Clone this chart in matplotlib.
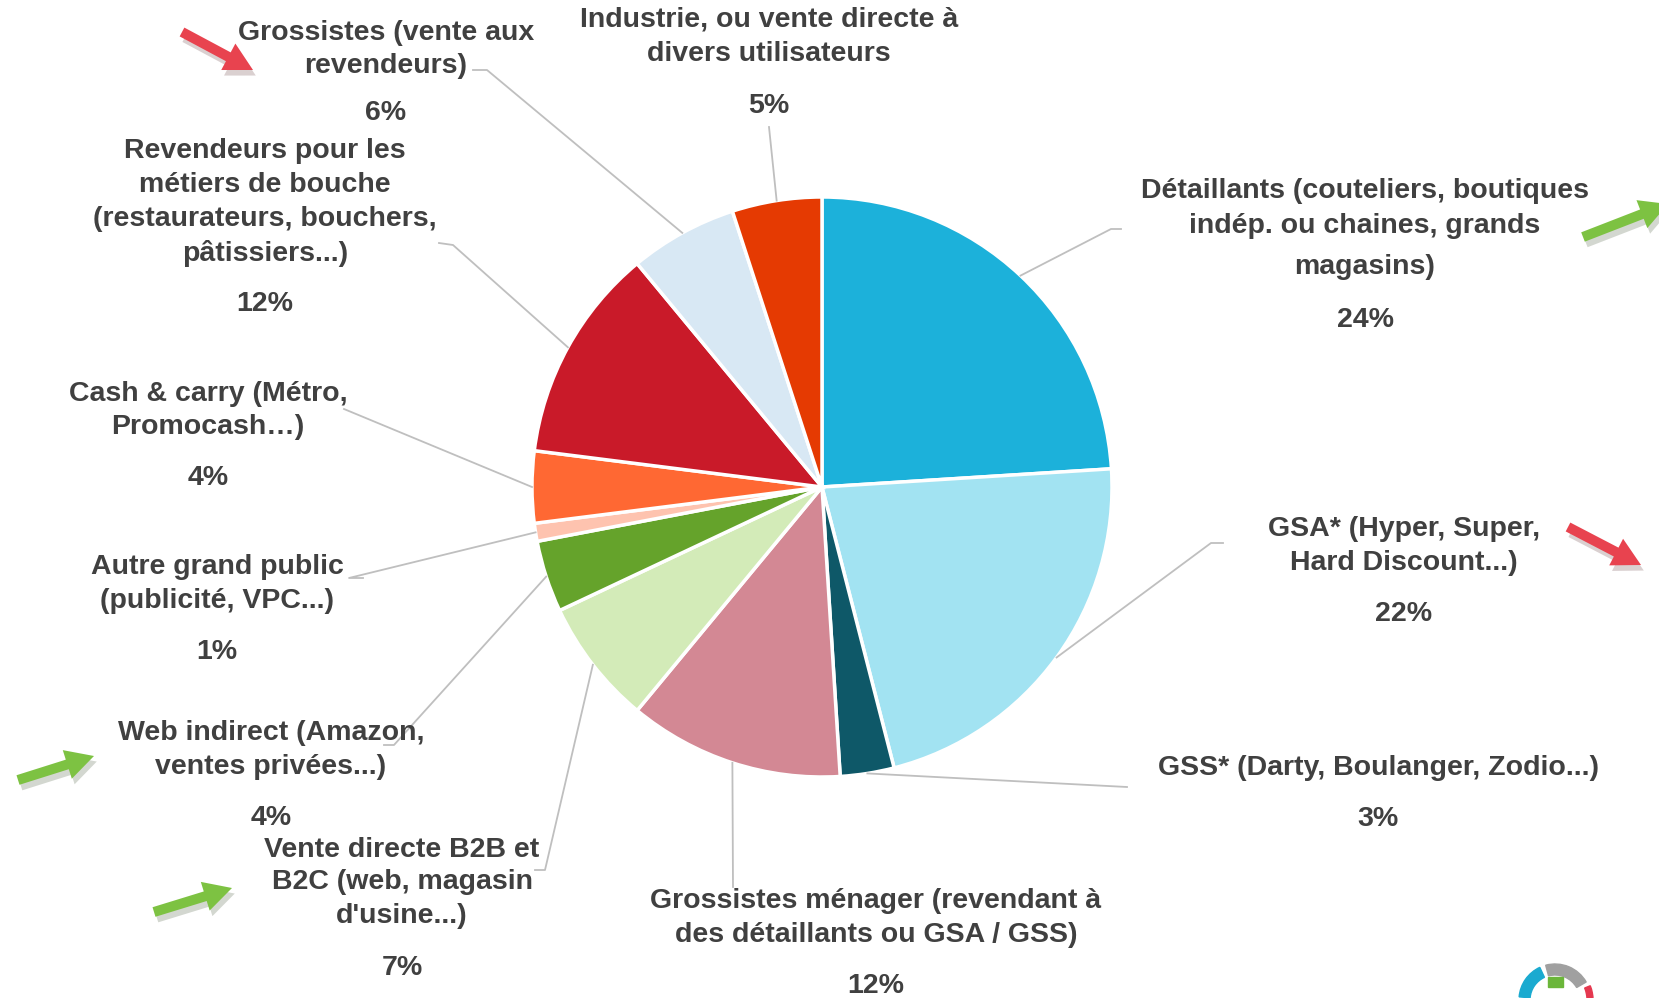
import numpy as np
import matplotlib
matplotlib.use("Agg")
import matplotlib.pyplot as plt
from matplotlib.patches import FancyArrow, Wedge, Rectangle
import matplotlib.patheffects as pe

W, H = 1659, 998

categories = [
    "Détaillants (couteliers, boutiques\nindép. ou chaines, grands\nmagasins)",
    "GSA* (Hyper, Super,\nHard Discount...)",
    "GSS* (Darty, Boulanger, Zodio...)",
    "Grossistes ménager (revendant à\ndes détaillants ou GSA / GSS)",
    "Vente directe B2B et\nB2C (web, magasin\nd'usine...)",
    "Web indirect (Amazon,\nventes privées...)",
    "Autre grand public\n(publicité, VPC...)",
    "Cash & carry (Métro,\nPromocash…)",
    "Revendeurs pour les\nmétiers de bouche\n(restaurateurs, bouchers,\npâtissiers...)",
    "Grossistes (vente aux\nrevendeurs)",
    "Industrie, ou vente directe à\ndivers utilisateurs",
]
values = [24, 22, 3, 12, 7, 4, 1, 4, 12, 6, 5]
colors = ["#1CB1DA", "#A2E3F2", "#0E5868", "#D38894", "#D3EBB8", "#65A32B",
          "#FEC3AF", "#FF6833", "#C91A29", "#D8E8F4", "#E53A02"]

# label layout in image pixels: text centre x, line y positions, pct y, leader path
label_x = [1365, 1404, 1378, 876, 402, 271, 217, 208, 265, 386, 769]
line_y = [[191, 226, 267], [529, 563], [768], [901, 935], [850, 882, 916],
          [733, 767], [567, 601], [394, 427], [151, 185, 219, 253],
          [33, 66], [19, 54]]
pct_y = [320, 614, 819, 986, 968, 818, 652, 478, 304, 113, 106]
leaders = [[(1111, 229), (1121, 229)], [(1211, 543), (1223, 543)],
           [(1127, 787)], [(733, 887)], [(545, 870), (535, 870)],
           [(394, 745), (384, 745)], [(349, 578), (363, 578)],
           [(344, 409)], [(453, 245), (439, 243)], [(487, 70), (473, 70)],
           [(769, 127)]]

cx, cy, R = 822, 487, 290
text_color = "#404040"
fsize = 20.5

fig = plt.figure(figsize=(W / 100, H / 100), dpi=100)
ax = fig.add_axes([0, 0, 1, 1])

wedges, _ = ax.pie(values, colors=colors, center=(cx, cy), radius=R,
                   startangle=-90, counterclock=True, frame=True,
                   wedgeprops=dict(edgecolor="white", linewidth=2.5))
ax.set_xlim(0, W)
ax.set_ylim(H, 0)
ax.set_aspect("equal")
ax.set_axis_off()

for i, w in enumerate(wedges):
    mid = np.deg2rad((w.theta1 + w.theta2) / 2)
    ax0 = cx + R * np.cos(mid)
    ay0 = cy + R * np.sin(mid)
    pts = [(ax0, ay0)] + leaders[i]
    xs, ys = zip(*pts)
    ax.plot(xs, ys, color="#BFBFBF", lw=1.3, zorder=1)
    lines = categories[i].split("\n")
    for t, y in zip(lines, line_y[i]):
        ax.text(label_x[i], y, t, ha="center", va="center", fontsize=fsize,
                fontweight="bold", color=text_color, family="Liberation Sans")
    ax.text(label_x[i], pct_y[i], f"{values[i]}%", ha="center", va="center",
            fontsize=fsize, fontweight="bold", color=text_color,
            family="Liberation Sans")

# decorative arrows
arrows = [((182, 32), (253, 70), "#E8434F"),
          ((1583, 237), (1668, 204), "#7DC242"),
          ((1568, 527), (1641, 565), "#E8434F"),
          ((18, 780), (94, 756), "#7DC242"),
          ((154, 912), (232, 888), "#7DC242")]
for (x0, y0), (x1, y1), c in arrows:
    a = FancyArrow(x0, y0, x1 - x0, y1 - y0, width=10, head_width=30,
                   head_length=28, length_includes_head=True, color=c, lw=0,
                   zorder=3)
    a.set_path_effects([pe.SimplePatchShadow(offset=(2, -4), alpha=0.2),
                        pe.Normal()])
    ax.add_patch(a)

# small logo bottom right
lx, ly = 1555, 1000
ax.add_patch(Wedge((lx, ly), 36, 185, 245, width=11, color="#1AAAD0"))
ax.add_patch(Wedge((lx, ly), 36, 255, 330, width=11, color="#A0A0A0"))
ax.add_patch(Wedge((lx, ly), 38, 338, 360, width=6, color="#E5384F"))
ax.add_patch(Rectangle((1548, 977), 15, 10, color="#6BB63A"))

fig.savefig("out.png", dpi=100, facecolor="white")
